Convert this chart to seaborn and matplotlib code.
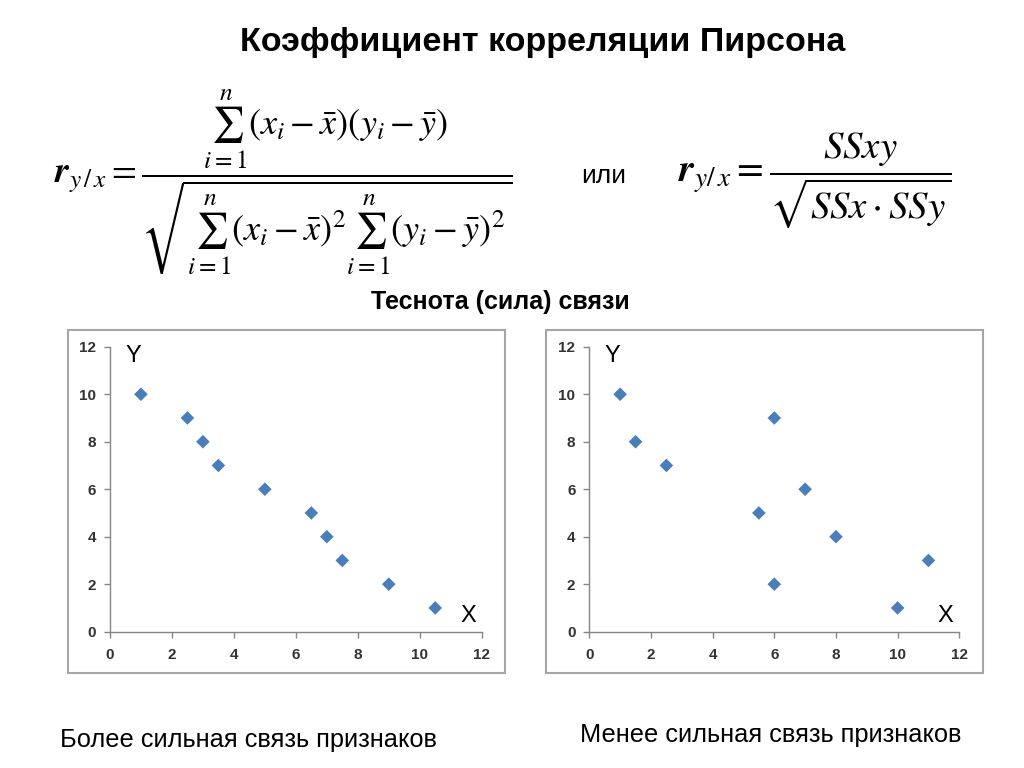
import matplotlib
matplotlib.use('Agg')
import matplotlib.pyplot as plt
import pandas as pd
import seaborn as sns
from matplotlib.patches import Rectangle

# data
strong_x = [1, 2.5, 3, 3.5, 5, 6.5, 7, 7.5, 9, 10.5]
strong_y = [10, 9, 8, 7, 6, 5, 4, 3, 2, 1]
weak_x = [1, 1.5, 2.5, 5.5, 6, 6, 7, 8, 10, 11]
weak_y = [10, 8, 7, 5, 9, 2, 6, 4, 1, 3]
axis_ticks = [0, 2, 4, 6, 8, 10, 12]

title = 'Коэффициент корреляции Пирсона'
subtitle = 'Теснота (сила) связи'
captions = ['Более сильная связь признаков', 'Менее сильная связь признаков']

sns.set_style('white')
plt.rcParams['font.family'] = ['Liberation Sans', 'DejaVu Sans']
plt.rcParams['mathtext.fontset'] = 'stix'
plt.rcParams['text.color'] = 'black'

point_color = '#4a7ebb'
axis_color = '#868686'


def scatter_panel(ax, x, y):
    df = pd.DataFrame({'x': x, 'y': y})
    sns.scatterplot(data=df, x='x', y='y', ax=ax, marker='D', s=48,
                    color=point_color, edgecolor='none')
    ax.set_xlim(0, 12)
    ax.set_ylim(0, 12)
    ax.set_xticks(axis_ticks)
    ax.set_yticks(axis_ticks)
    ax.set_xlabel('')
    ax.set_ylabel('')
    for side in ['top', 'right']:
        ax.spines[side].set_visible(False)
    for side in ['left', 'bottom']:
        ax.spines[side].set_color(axis_color)
        ax.spines[side].set_linewidth(1)
    ax.tick_params(axis='both', direction='out', length=4, width=1,
                   color=axis_color, labelsize=11, labelcolor='#333333')
    ax.tick_params(axis='x', pad=8)
    ax.tick_params(axis='y', pad=6)
    ax.tick_params(axis='both', left=True, bottom=True)
    for lab in ax.get_xticklabels() + ax.get_yticklabels():
        lab.set_fontweight('bold')
    ax.set_facecolor('none')
    ax.text(0.5, 11.6, 'Y', fontsize=17, va='center', ha='left')
    ax.text(11.3, 0.65, 'X', fontsize=17, va='center', ha='left')


fig = plt.figure(figsize=(10.24, 7.68), dpi=100)

ax1 = fig.add_axes([0.1074, 0.1775, 0.363, 0.371])
ax2 = fig.add_axes([0.5755, 0.1775, 0.3613, 0.371])
scatter_panel(ax1, strong_x, strong_y)
scatter_panel(ax2, weak_x, weak_y)

# grey frames around the two charts
fig.patches.append(Rectangle((68 / 1024, 1 - 673 / 768), 437 / 1024, 343 / 768,
                             transform=fig.transFigure, fill=False,
                             edgecolor='#a6a6a6', lw=1.5))
fig.patches.append(Rectangle((546 / 1024, 1 - 673 / 768), 437 / 1024, 343 / 768,
                             transform=fig.transFigure, fill=False,
                             edgecolor='#a6a6a6', lw=1.5))

fig.text(0.530, 0.945, title, fontsize=24.5, fontweight='bold', ha='center', va='center')
fig.text(0.489, 0.607, subtitle, fontsize=18, fontweight='bold', ha='center', va='center')
fig.text(0.243, 0.036, captions[0], fontsize=18.3, ha='center', va='center')
fig.text(0.753, 0.043, captions[1], fontsize=18.3, ha='center', va='center')
fig.text(0.589, 0.771, 'или', fontsize=19, ha='center', va='center')

formula_left = (r'$\boldsymbol{r}_{y\,/\,x}=\dfrac{\sum_{i=1}^{n}(x_i-\bar{x})(y_i-\bar{y})}'
                r'{\sqrt{\sum_{i=1}^{n}(x_i-\bar{x})^2\sum_{i=1}^{n}(y_i-\bar{y})^2}}$')
formula_right = r'$\boldsymbol{r}_{y/\,x}=\dfrac{SSxy}{\sqrt{SSx\cdot SSy}}$'
fig.text(0.276, 0.763, formula_left, fontsize=26, ha='center', va='center')
fig.text(0.796, 0.766, formula_right, fontsize=28, ha='center', va='center')

fig.savefig('out.png', dpi=100)
